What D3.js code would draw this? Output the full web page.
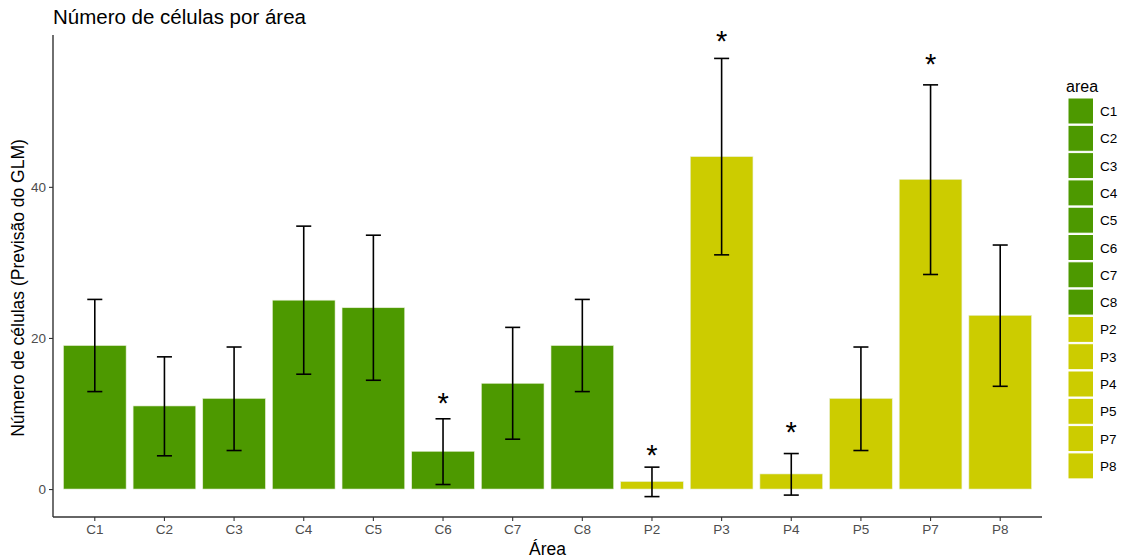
<!DOCTYPE html>
<html>
<head>
<meta charset="utf-8">
<script src="https://cdn.jsdelivr.net/npm/d3@7"></script>
<style>
  body { margin: 0; background: #fff; }
  svg { display: block; font-family: "Liberation Sans", Arial, sans-serif; }
</style>
</head>
<body>
<svg id="chart" width="1121" height="560"></svg>
<script>
const areas  = ["C1","C2","C3","C4","C5","C6","C7","C8","P2","P3","P4","P5","P7","P8"];
const values = [19, 11, 12, 25, 24, 5, 14, 19, 1, 44, 2, 12, 41, 23];
const lower  = [12.9, 4.4, 5.1, 15.2, 14.4, 0.6, 6.6, 12.9, -1.0, 31.0, -0.8, 5.1, 28.4, 13.6];
const upper  = [25.1, 17.5, 18.8, 34.8, 33.6, 9.3, 21.4, 25.1, 2.9, 57.0, 4.7, 18.8, 53.5, 32.3];
const starAreas  = ["C6","P2","P3","P4","P7"];
const starValues = [11.8, 4.9, 59.7, 7.9, 56.7];
const yTicks = [0, 20, 40];
const groupOf = a => a[0];
const colors = { C: "#4D9900", P: "#CCCC00" };

const svg = d3.select("#chart");
const pLeft = 53, pRight = 1042, pTop = 35, pBottom = 517;

const x = d3.scaleBand().domain(areas).range([pLeft, pRight]).paddingInner(0.1).paddingOuter(0.15);
const y = d3.scaleLinear().domain([-3.7, 60.1]).range([pBottom, pTop]);

// bars
svg.append("g").selectAll("rect").data(areas).join("rect")
  .attr("x", d => x(d))
  .attr("width", x.bandwidth())
  .attr("y", (d, i) => y(Math.max(0, values[i])))
  .attr("height", (d, i) => Math.abs(y(values[i]) - y(0)))
  .attr("fill", d => colors[groupOf(d)])
  .attr("stroke", "#e8f0d8").attr("stroke-width", 0.6);

// error bars
const eb = svg.append("g").attr("stroke", "#000").attr("stroke-width", 1.6).attr("fill", "none");
const capW = x.bandwidth() * 0.24;
areas.forEach((a, i) => {
  const cx = x(a) + x.bandwidth() / 2;
  eb.append("line").attr("x1", cx).attr("x2", cx).attr("y1", y(lower[i])).attr("y2", y(upper[i]));
  eb.append("line").attr("x1", cx - capW/2).attr("x2", cx + capW/2).attr("y1", y(lower[i])).attr("y2", y(lower[i]));
  eb.append("line").attr("x1", cx - capW/2).attr("x2", cx + capW/2).attr("y1", y(upper[i])).attr("y2", y(upper[i]));
});

// stars
svg.append("g").selectAll("text").data(starAreas).join("text")
  .attr("x", d => x(d) + x.bandwidth() / 2)
  .attr("y", (d, i) => y(starValues[i]) + 13)
  .attr("text-anchor", "middle")
  .attr("font-size", 29)
  .attr("fill", "#000")
  .text("*");

// axes
const xAxis = svg.append("g").attr("transform", `translate(0,${pBottom})`)
  .call(d3.axisBottom(x).tickSize(4).tickPadding(3));
const yAxis = svg.append("g").attr("transform", `translate(${pLeft},0)`)
  .call(d3.axisLeft(y).tickValues(yTicks).tickSize(4).tickPadding(3));
[xAxis, yAxis].forEach(g => {
  g.select(".domain").attr("stroke", "#333").attr("stroke-width", 1.4);
  g.selectAll(".tick line").attr("stroke", "#333").attr("stroke-width", 1.1);
  g.selectAll(".tick text").attr("fill", "#4D4D4D").attr("font-size", 13.5)
    .attr("font-family", "Liberation Sans, Arial, sans-serif");
});
yAxis.select(".domain").attr("d", `M0,${pTop}V${pBottom}`);
xAxis.select(".domain").attr("d", `M${pLeft},0H${pRight}`);

// titles
svg.append("text").attr("x", 53).attr("y", 24).attr("font-size", 20.5).attr("fill", "#000")
  .text("Número de células por área");
svg.append("text").attr("x", (pLeft + pRight) / 2).attr("y", 555).attr("text-anchor", "middle")
  .attr("font-size", 17.5).attr("fill", "#000").text("Área");
svg.append("text").attr("transform", `translate(24,${(pTop + pBottom) / 2 + 12}) rotate(-90)`)
  .attr("text-anchor", "middle").attr("font-size", 17.5).attr("fill", "#000")
  .text("Número de células (Previsão do GLM)");

// legend
const lg = svg.append("g");
lg.append("text").attr("x", 1066).attr("y", 92).attr("font-size", 16).attr("fill", "#000").text("area");
const keyStep = 27.3;
areas.forEach((a, i) => {
  const ky = 98 + i * keyStep;
  lg.append("rect").attr("x", 1068).attr("y", ky).attr("width", 25.5).attr("height", 26)
    .attr("fill", colors[groupOf(a)]).attr("stroke", "#fff").attr("stroke-width", 1);
  lg.append("text").attr("x", 1100).attr("y", ky + 18).attr("font-size", 13.5).attr("fill", "#000").text(a);
});
</script>
</body>
</html>
